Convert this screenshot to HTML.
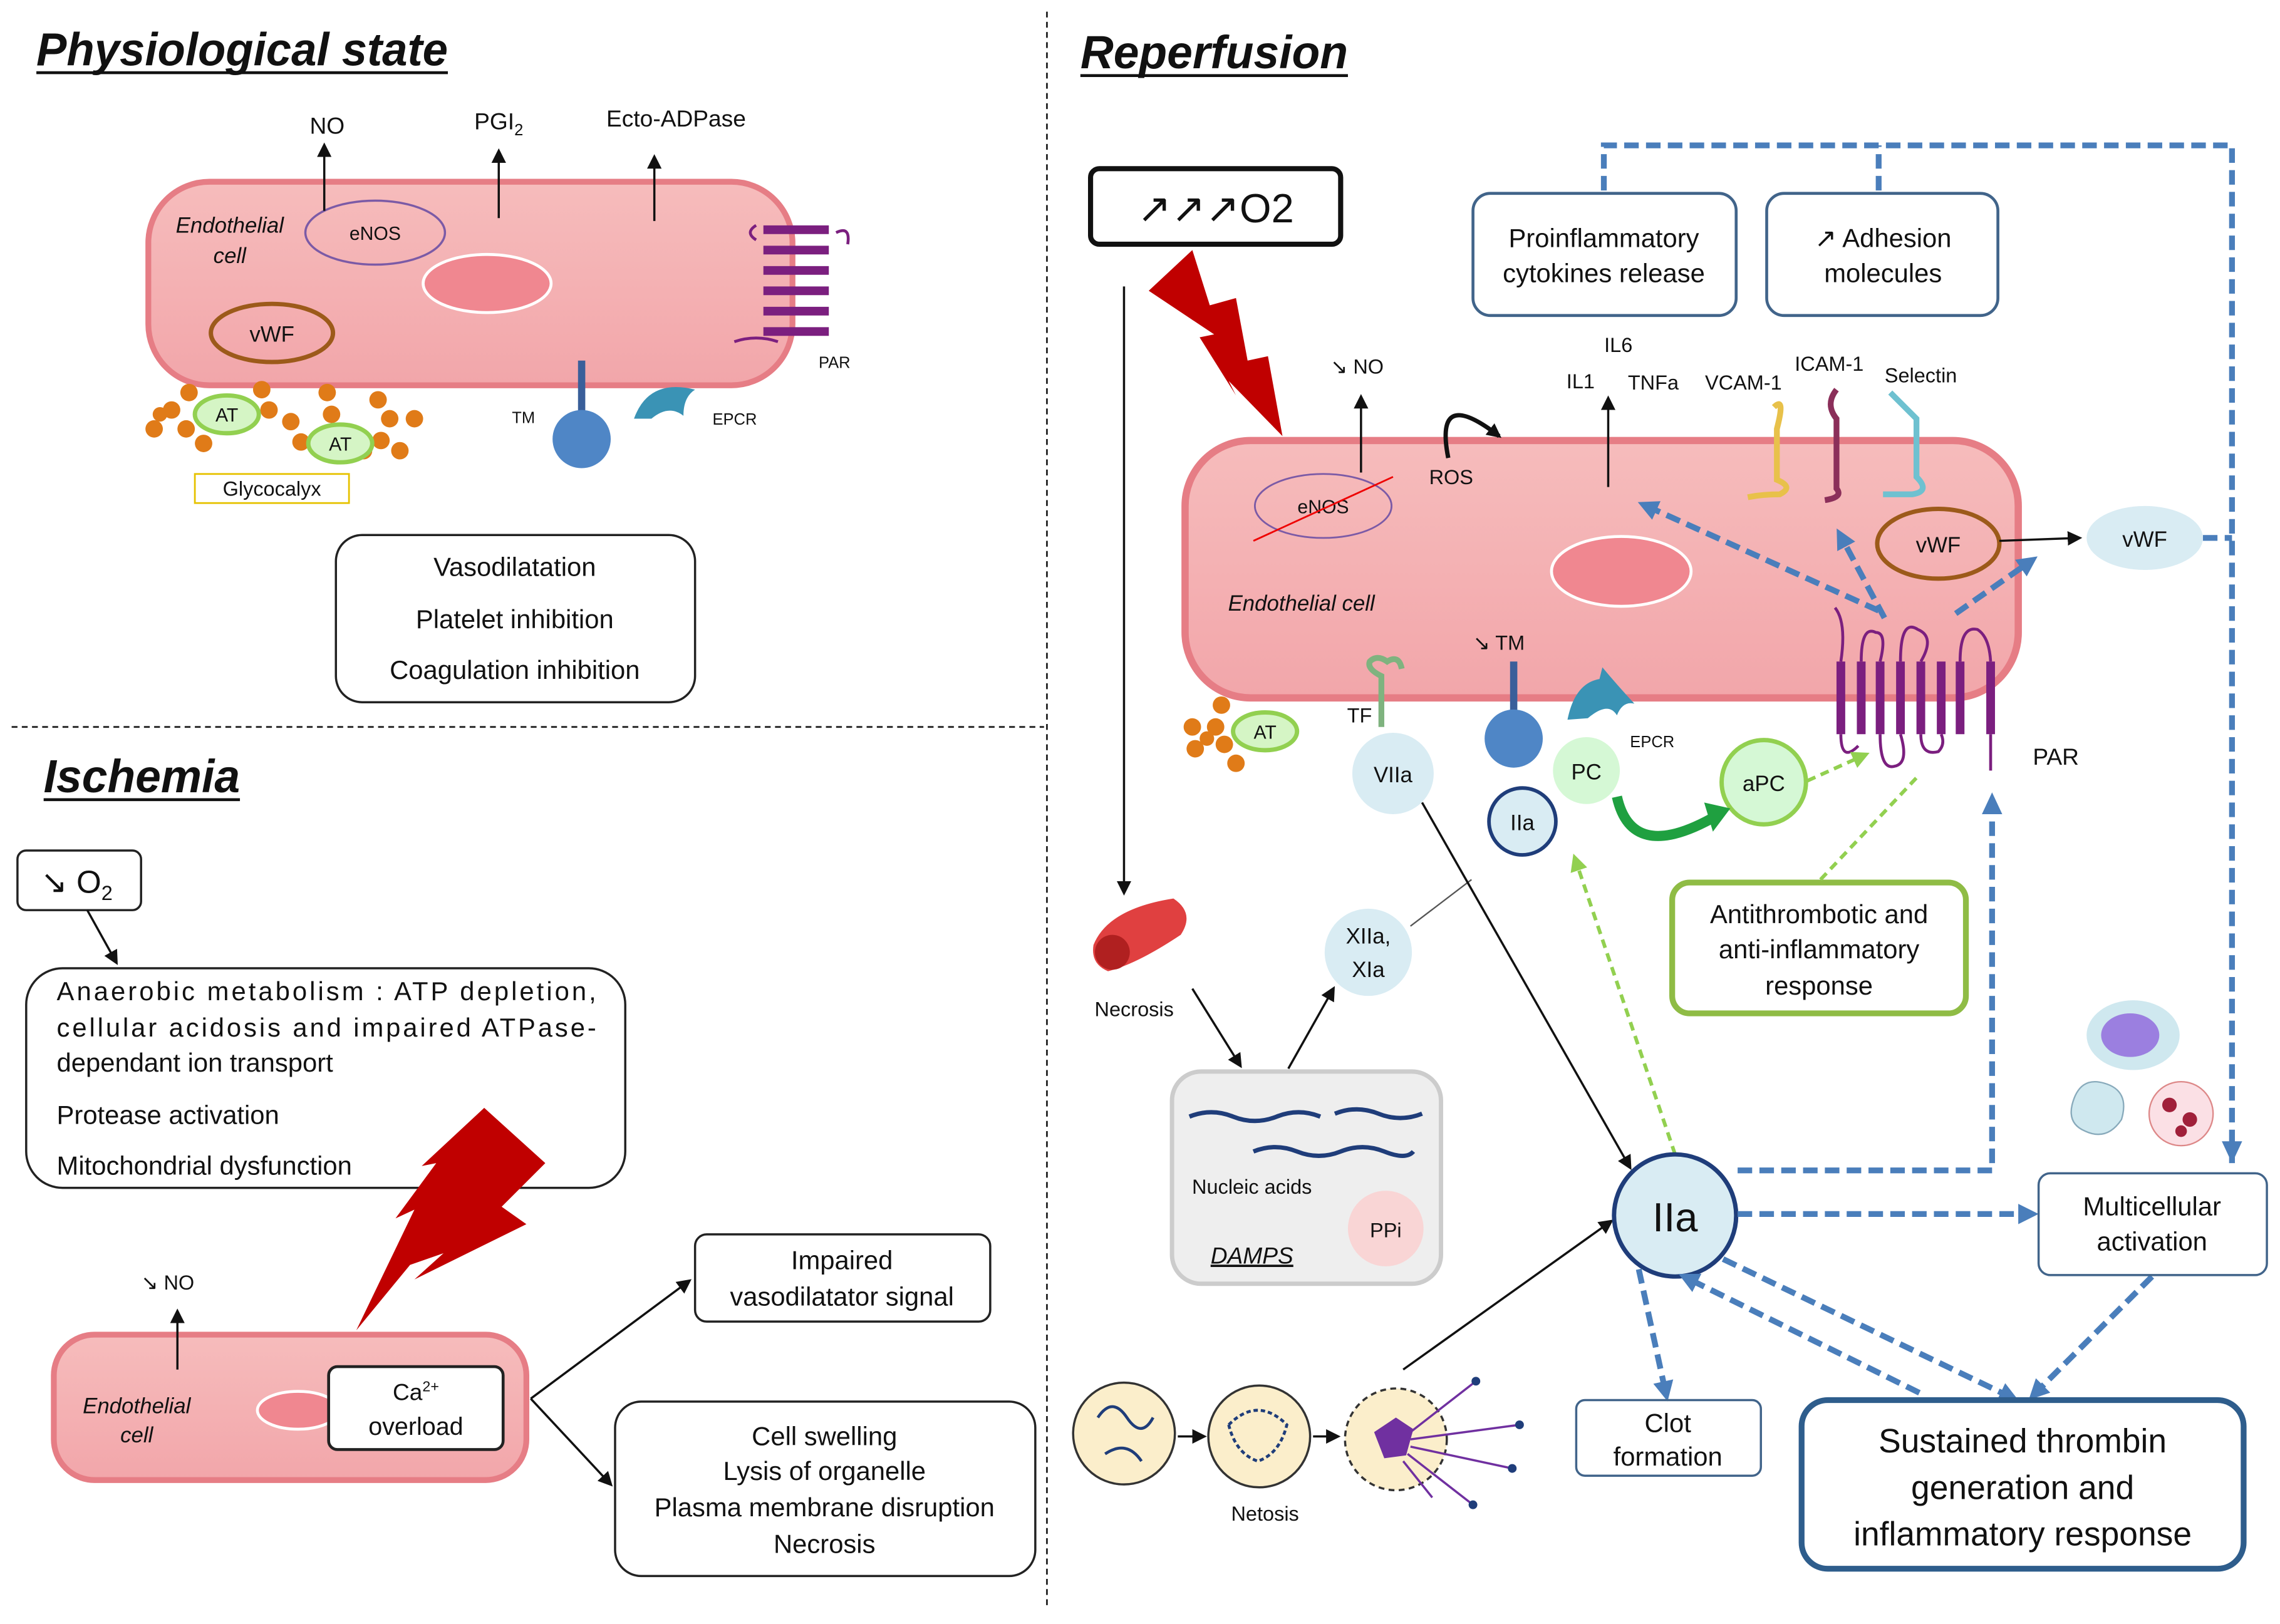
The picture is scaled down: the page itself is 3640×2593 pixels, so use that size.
<!DOCTYPE html>
<html><head><meta charset="utf-8"><style>
html,body{margin:0;padding:0;background:#fff}
svg{display:block}
text{font-family:"Liberation Sans",sans-serif;fill:#111}
</style></head><body>
<svg width="3640" height="2593" viewBox="0 0 1568 1117" xmlns="http://www.w3.org/2000/svg">
<defs>
<marker id="ak" markerWidth="10" markerHeight="10" refX="8" refY="5" orient="auto" markerUnits="userSpaceOnUse"><path d="M0,0 L10,5 L0,10 z" fill="#111"/></marker>
<marker id="ab" markerWidth="14" markerHeight="14" refX="10" refY="7" orient="auto" markerUnits="userSpaceOnUse"><path d="M0,0 L14,7 L0,14 z" fill="#4a7ebb"/></marker>
<marker id="ag" markerWidth="12" markerHeight="12" refX="9" refY="6" orient="auto" markerUnits="userSpaceOnUse"><path d="M0,0 L12,6 L0,12 z" fill="#92d050"/></marker>
<linearGradient id="cg" x1="0" y1="0" x2="0" y2="1"><stop offset="0" stop-color="#f6bcbc"/><stop offset="1" stop-color="#f2a6aa"/></linearGradient>
</defs>

<line x1="720" y1="8" x2="720" y2="1105" stroke="#222" stroke-width="1.2" stroke-dasharray="4,3"/>
<line x1="8" y1="500" x2="718" y2="500" stroke="#222" stroke-width="1.2" stroke-dasharray="4,3"/>

<text x="25" y="45" font-size="32" font-weight="bold" font-style="italic" textLength="283" lengthAdjust="spacingAndGlyphs">Physiological state</text>
<line x1="25" y1="50" x2="308" y2="50" stroke="#111" stroke-width="2"/>
<text x="743" y="47" font-size="32" font-weight="bold" font-style="italic" textLength="184" lengthAdjust="spacingAndGlyphs">Reperfusion</text>
<line x1="743" y1="52" x2="927" y2="52" stroke="#111" stroke-width="2"/>
<text x="30" y="545" font-size="32" font-weight="bold" font-style="italic" textLength="135" lengthAdjust="spacingAndGlyphs">Ischemia</text>
<line x1="30" y1="550" x2="165" y2="550" stroke="#111" stroke-width="2"/>

<!-- ===== Physiological ===== -->
<rect x="102" y="125" width="443" height="140" rx="42" fill="url(#cg)" stroke="#e67d85" stroke-width="4"/>
<ellipse cx="335" cy="195" rx="44" ry="20" fill="#f08790" stroke="#fff" stroke-width="2"/>
<ellipse cx="258" cy="160" rx="48" ry="22" fill="none" stroke="#7b5aa6" stroke-width="1.5"/>
<text x="258" y="165" font-size="13" text-anchor="middle">eNOS</text>
<ellipse cx="187" cy="229" rx="42" ry="20" fill="none" stroke="#9c5a1a" stroke-width="3"/>
<text x="187" y="235" font-size="15" text-anchor="middle">vWF</text>
<text x="158" y="160" font-size="15" font-style="italic" text-anchor="middle">Endothelial</text>
<text x="158" y="181" font-size="15" font-style="italic" text-anchor="middle">cell</text>
<line x1="223" y1="145" x2="223" y2="100" stroke="#111" stroke-width="1.5" marker-end="url(#ak)"/>
<line x1="343" y1="150" x2="343" y2="104" stroke="#111" stroke-width="1.5" marker-end="url(#ak)"/>
<line x1="450" y1="152" x2="450" y2="108" stroke="#111" stroke-width="1.5" marker-end="url(#ak)"/>
<text x="225" y="92" font-size="16" text-anchor="middle">NO</text>
<text x="343" y="89" font-size="16" text-anchor="middle">PGI<tspan font-size="11" dy="4">2</tspan></text>
<text x="465" y="87" font-size="16" text-anchor="middle">Ecto-ADPase</text>
<g stroke="#7b1f7f" stroke-width="6">
<line x1="525" y1="158" x2="570" y2="158"/><line x1="525" y1="172" x2="570" y2="172"/><line x1="525" y1="186" x2="570" y2="186"/><line x1="525" y1="200" x2="570" y2="200"/><line x1="525" y1="214" x2="570" y2="214"/><line x1="525" y1="228" x2="570" y2="228"/></g>
<path d="M520,155 q-8,5 0,10 M575,160 q10,-5 8,8 M505,235 q15,-5 30,0" stroke="#7b1f7f" stroke-width="2" fill="none"/>
<text x="563" y="253" font-size="11">PAR</text>
<g fill="#e07b18">
<circle cx="106" cy="295" r="6"/><circle cx="118" cy="282" r="6"/><circle cx="130" cy="270" r="6"/><circle cx="128" cy="295" r="6"/><circle cx="140" cy="305" r="6"/><circle cx="110" cy="285" r="5"/><circle cx="180" cy="268" r="6"/><circle cx="185" cy="282" r="6"/><circle cx="200" cy="290" r="6"/><circle cx="207" cy="304" r="6"/><circle cx="225" cy="270" r="6"/><circle cx="228" cy="285" r="6"/><circle cx="260" cy="275" r="6"/><circle cx="268" cy="288" r="6"/><circle cx="285" cy="288" r="6"/><circle cx="262" cy="303" r="6"/><circle cx="275" cy="310" r="6"/><circle cx="250" cy="310" r="6"/></g>
<ellipse cx="156" cy="285" rx="22" ry="13" fill="#d5f5c5" stroke="#92d050" stroke-width="3"/><text x="156" y="290" font-size="13" text-anchor="middle">AT</text>
<ellipse cx="234" cy="305" rx="22" ry="13" fill="#d5f5c5" stroke="#92d050" stroke-width="3"/><text x="234" y="310" font-size="13" text-anchor="middle">AT</text>
<rect x="134" y="326" width="106" height="20" fill="none" stroke="#e6c200" stroke-width="1.2"/>
<text x="187" y="341" font-size="14" text-anchor="middle">Glycocalyx</text>
<line x1="400" y1="248" x2="400" y2="285" stroke="#3a5f9a" stroke-width="5"/>
<circle cx="400" cy="302" r="20" fill="#4f86c6"/>
<text x="360" y="291" font-size="11" text-anchor="middle">TM</text>
<path d="M436,288 q10,-28 42,-20 q-8,5 -8,18 q-10,-8 -22,2 z" fill="#3a93b5"/>
<text x="490" y="292" font-size="11">EPCR</text>
<rect x="231" y="368" width="247" height="115" rx="18" fill="none" stroke="#222" stroke-width="1.5"/>
<text x="354" y="396" font-size="18" text-anchor="middle">Vasodilatation</text>
<text x="354" y="432" font-size="18" text-anchor="middle">Platelet inhibition</text>
<text x="354" y="467" font-size="18" text-anchor="middle">Coagulation inhibition</text>

<!-- ===== Ischemia ===== -->
<rect x="12" y="585" width="85" height="41" rx="6" fill="none" stroke="#222" stroke-width="1.5"/>
<text x="28" y="614" font-size="22">↘ O<tspan font-size="14" dy="5">2</tspan></text>
<line x1="60" y1="626" x2="80" y2="662" stroke="#111" stroke-width="1.5" marker-end="url(#ak)"/>
<rect x="18" y="666" width="412" height="151" rx="25" fill="none" stroke="#222" stroke-width="1.5"/>
<text x="39" y="688" font-size="18" textLength="371" lengthAdjust="spacing">Anaerobic metabolism : ATP depletion,</text>
<text x="39" y="713" font-size="18" textLength="371" lengthAdjust="spacing">cellular acidosis and impaired ATPase-</text>
<text x="39" y="737" font-size="18">dependant ion transport</text>
<text x="39" y="773" font-size="18">Protease activation</text>
<text x="39" y="808" font-size="18">Mitochondrial dysfunction</text>
<polygon points="333,762 375,800 345,830 362,842 285,880 305,862 282,870 245,915 285,832 272,838 300,800 290,802" fill="#c00000"/>
<rect x="37" y="918" width="325" height="100" rx="28" fill="url(#cg)" stroke="#e67d85" stroke-width="4"/>
<ellipse cx="205" cy="970" rx="28" ry="13" fill="#f08790" stroke="#fff" stroke-width="2"/>
<rect x="226" y="940" width="120" height="57" rx="6" fill="#fff" stroke="#222" stroke-width="2"/>
<text x="286" y="963" font-size="16" text-anchor="middle">Ca<tspan font-size="10" dy="-6">2+</tspan></text>
<text x="286" y="987" font-size="17" text-anchor="middle">overload</text>
<text x="94" y="972" font-size="15" font-style="italic" text-anchor="middle">Endothelial</text>
<text x="94" y="992" font-size="15" font-style="italic" text-anchor="middle">cell</text>
<line x1="122" y1="942" x2="122" y2="902" stroke="#111" stroke-width="1.5" marker-end="url(#ak)"/>
<text x="97" y="887" font-size="14">↘ NO</text>
<line x1="365" y1="962" x2="474" y2="881" stroke="#111" stroke-width="1.5" marker-end="url(#ak)"/>
<line x1="365" y1="962" x2="420" y2="1021" stroke="#111" stroke-width="1.5" marker-end="url(#ak)"/>
<rect x="478" y="849" width="203" height="60" rx="8" fill="none" stroke="#222" stroke-width="1.5"/>
<text x="579" y="873" font-size="18" text-anchor="middle">Impaired</text>
<text x="579" y="898" font-size="18" text-anchor="middle">vasodilatator signal</text>
<rect x="423" y="964" width="289" height="120" rx="18" fill="none" stroke="#222" stroke-width="1.5"/>
<text x="567" y="994" font-size="18" text-anchor="middle">Cell swelling</text>
<text x="567" y="1018" font-size="18" text-anchor="middle">Lysis of organelle</text>
<text x="567" y="1043" font-size="18" text-anchor="middle">Plasma membrane disruption</text>
<text x="567" y="1068" font-size="18" text-anchor="middle">Necrosis</text>

<!-- ===== Reperfusion ===== -->
<rect x="750" y="116" width="172" height="52" rx="6" fill="none" stroke="#111" stroke-width="3.5"/>
<text x="836" y="153" font-size="28" text-anchor="middle">↗↗↗O2</text>
<polygon points="790,200 820,172 832,210 850,205 858,248 872,245 882,300 845,262 850,272 825,232 835,230" fill="#c00000"/>
<line x1="773" y1="197" x2="773" y2="614" stroke="#111" stroke-width="1.5" marker-end="url(#ak)"/>

<rect x="1013" y="133" width="181" height="84" rx="12" fill="none" stroke="#41648a" stroke-width="2"/>
<text x="1103" y="170" font-size="18" text-anchor="middle">Proinflammatory</text>
<text x="1103" y="194" font-size="18" text-anchor="middle">cytokines release</text>
<rect x="1215" y="133" width="159" height="84" rx="12" fill="none" stroke="#41648a" stroke-width="2"/>
<text x="1295" y="170" font-size="18" text-anchor="middle">↗ Adhesion</text>
<text x="1295" y="194" font-size="18" text-anchor="middle">molecules</text>
<g stroke="#4a7ebb" stroke-width="4" stroke-dasharray="10,5" fill="none">
<polyline points="1103,131 1103,100 1535,100 1535,800"/>
<line x1="1292" y1="131" x2="1292" y2="100"/>
<line x1="1515" y1="370" x2="1535" y2="370"/>
</g>
<polygon points="1528,785 1542,785 1535,800" fill="#4a7ebb"/>

<rect x="815" y="303" width="573" height="177" rx="45" fill="url(#cg)" stroke="#e67d85" stroke-width="5"/>
<ellipse cx="1115" cy="393" rx="48" ry="24" fill="#f08790" stroke="#fff" stroke-width="2"/>
<ellipse cx="910" cy="348" rx="47" ry="22" fill="none" stroke="#7b5aa6" stroke-width="1.2"/>
<text x="910" y="353" font-size="13" text-anchor="middle">eNOS</text>
<line x1="862" y1="372" x2="958" y2="328" stroke="#e00" stroke-width="1.2"/>
<text x="895" y="420" font-size="15" font-style="italic" text-anchor="middle">Endothelial cell</text>
<line x1="936" y1="325" x2="936" y2="273" stroke="#111" stroke-width="1.5" marker-end="url(#ak)"/>
<text x="915" y="257" font-size="14">↘ NO</text>
<path d="M996,315 q-10,-50 35,-15" stroke="#111" stroke-width="3" fill="none" marker-end="url(#ak)"/>
<text x="998" y="333" font-size="14" text-anchor="middle">ROS</text>
<line x1="1106" y1="335" x2="1106" y2="274" stroke="#111" stroke-width="1.5" marker-end="url(#ak)"/>
<text x="1113" y="242" font-size="14" text-anchor="middle">IL6</text>
<text x="1087" y="267" font-size="14" text-anchor="middle">IL1</text>
<text x="1137" y="268" font-size="14" text-anchor="middle">TNFa</text>
<text x="1199" y="268" font-size="14" text-anchor="middle">VCAM-1</text>
<text x="1258" y="255" font-size="14" text-anchor="middle">ICAM-1</text>
<text x="1321" y="263" font-size="14" text-anchor="middle">Selectin</text>
<path d="M1220,280 q8,-8 2,15 l0,35 q12,5 2,10 q-12,0 -22,2" stroke="#e8c14a" stroke-width="4" fill="none"/>
<path d="M1263,268 q-8,10 0,20 l0,48 q5,6 -8,8" stroke="#8b2f5a" stroke-width="4" fill="none"/>
<path d="M1300,270 q10,10 18,18 l0,40 q10,10 -3,12 q-15,0 -20,0" stroke="#6ec1d0" stroke-width="4" fill="none"/>
<ellipse cx="1333" cy="374" rx="42" ry="24" fill="none" stroke="#9c5a1a" stroke-width="3"/>
<text x="1333" y="380" font-size="15" text-anchor="middle">vWF</text>
<line x1="1375" y1="372" x2="1430" y2="370" stroke="#111" stroke-width="1.5" marker-end="url(#ak)"/>
<ellipse cx="1475" cy="370" rx="40" ry="22" fill="#d9ecf3"/>
<text x="1475" y="376" font-size="15" text-anchor="middle">vWF</text>

<g stroke="#7b1f7f" stroke-width="6">
<line x1="1266" y1="455" x2="1266" y2="505"/><line x1="1280" y1="455" x2="1280" y2="505"/><line x1="1293" y1="455" x2="1293" y2="505"/><line x1="1307" y1="455" x2="1307" y2="505"/><line x1="1321" y1="455" x2="1321" y2="505"/><line x1="1335" y1="455" x2="1335" y2="505"/><line x1="1348" y1="455" x2="1348" y2="505"/><line x1="1369" y1="455" x2="1369" y2="505"/></g>
<path d="M1262,418 q8,10 4,37 M1280,455 q0,-25 10,-20 q8,0 3,20 M1307,455 q0,-30 12,-22 q12,5 2,22 M1348,455 q0,-25 12,-22 q8,5 9,22 M1266,505 q0,20 12,8 M1293,505 q0,25 10,22 q10,-2 4,-22 M1321,505 q0,15 12,12 q5,-5 2,-12 M1369,505 l0,25" stroke="#7b1f7f" stroke-width="2" fill="none"/>
<text x="1398" y="526" font-size="16">PAR</text>
<g stroke="#4a7ebb" stroke-width="4" stroke-dasharray="10,5" fill="none">
<line x1="1292" y1="420" x2="1130" y2="347" marker-end="url(#ab)"/>
<line x1="1296" y1="425" x2="1265" y2="367" marker-end="url(#ab)"/>
<line x1="1345" y1="422" x2="1398" y2="385" marker-end="url(#ab)"/>
</g>

<text x="1013" y="447" font-size="14">↘ TM</text>
<line x1="1041" y1="455" x2="1041" y2="492" stroke="#3a5f9a" stroke-width="5"/>
<ellipse cx="1041" cy="508" rx="20" ry="20" fill="#4f86c6"/>
<path d="M950,500 l0,-35 q-10,-5 -8,-10 q5,-5 12,0 q8,-5 10,5" stroke="#7fb37f" stroke-width="4" fill="none"/>
<text x="935" y="497" font-size="14" text-anchor="middle">TF</text>
<path d="M1078,495 q5,-25 22,-28 l2,-8 q10,12 22,25 q-8,-2 -12,8 q-6,-10 -20,2 z" fill="#3a93b5"/>
<text x="1121" y="514" font-size="11">EPCR</text>
<g fill="#e07b18"><circle cx="820" cy="500" r="6"/><circle cx="822" cy="515" r="6"/><circle cx="836" cy="500" r="6"/><circle cx="840" cy="485" r="6"/><circle cx="842" cy="512" r="6"/><circle cx="850" cy="525" r="6"/><circle cx="830" cy="508" r="5"/></g>
<ellipse cx="870" cy="503" rx="22" ry="13" fill="#d5f5c5" stroke="#92d050" stroke-width="3"/><text x="870" y="508" font-size="13" text-anchor="middle">AT</text>

<circle cx="958" cy="532" r="28" fill="#d9ecf3"/><text x="958" y="538" font-size="15" text-anchor="middle">VIIa</text>
<circle cx="1047" cy="565" r="23" fill="#d9ecf3" stroke="#1f3d7a" stroke-width="2.5"/><text x="1047" y="571" font-size="15" text-anchor="middle">IIa</text>
<circle cx="1091" cy="530" r="23" fill="#d5f8d5"/><text x="1091" y="536" font-size="15" text-anchor="middle">PC</text>
<circle cx="1213" cy="538" r="29" fill="#d5f8d5" stroke="#92d050" stroke-width="3"/><text x="1213" y="544" font-size="15" text-anchor="middle">aPC</text>
<path d="M1112,548 q10,45 65,15" stroke="#1fa040" stroke-width="7" fill="none"/>
<polygon points="1172,552 1190,556 1178,572" fill="#1fa040"/>
<circle cx="941" cy="655" r="30" fill="#d9ecf3"/><text x="941" y="649" font-size="15" text-anchor="middle">XIIa,</text><text x="941" y="672" font-size="15" text-anchor="middle">XIa</text>

<rect x="1150" y="607" width="202" height="90" rx="12" fill="none" stroke="#8fbc45" stroke-width="4"/>
<text x="1251" y="635" font-size="18" text-anchor="middle">Antithrombotic and</text>
<text x="1251" y="659" font-size="18" text-anchor="middle">anti-inflammatory</text>
<text x="1251" y="684" font-size="18" text-anchor="middle">response</text>
<g stroke="#92d050" stroke-width="2.5" stroke-dasharray="6,4" fill="none">
<line x1="1252" y1="605" x2="1318" y2="535"/>
<line x1="1243" y1="537" x2="1283" y2="519" marker-end="url(#ag)"/>
<line x1="1152" y1="794" x2="1083" y2="590" marker-end="url(#ag)"/>
</g>

<path d="M752,650 q10,-25 55,-32 q15,10 5,25 q-30,20 -50,25 q-12,-5 -10,-18 z" fill="#e04040"/>
<circle cx="765" cy="655" r="12" fill="#b02020"/>
<text x="780" y="699" font-size="14" text-anchor="middle">Necrosis</text>
<line x1="820" y1="680" x2="853" y2="733" stroke="#111" stroke-width="1.5" marker-end="url(#ak)"/>
<line x1="886" y1="735" x2="917" y2="680" stroke="#111" stroke-width="1.5" marker-end="url(#ak)"/>
<line x1="970" y1="637" x2="1012" y2="605" stroke="#555" stroke-width="1"/>
<rect x="806" y="737" width="185" height="146" rx="20" fill="#eeeeee" stroke="#cccccc" stroke-width="3"/>
<path d="M818,768 q15,-6 30,0 t30,0 t30,0 M918,766 q15,-6 30,0 t30,0 M862,792 q15,-6 30,0 t30,0 t30,0 t20,0" stroke="#1f3d7a" stroke-width="3" fill="none"/>
<text x="861" y="821" font-size="14" text-anchor="middle">Nucleic acids</text>
<text x="861" y="869" font-size="16" font-style="italic" text-anchor="middle" text-decoration="underline">DAMPS</text>
<circle cx="953" cy="845" r="26" fill="#f9d5d5"/><text x="953" y="851" font-size="14" text-anchor="middle">PPi</text>
<line x1="978" y1="552" x2="1121" y2="803" stroke="#111" stroke-width="1.5" marker-end="url(#ak)"/>

<circle cx="773" cy="986" r="35" fill="#fbeecb" stroke="#333" stroke-width="1.5"/>
<path d="M755,975 q10,-15 20,0 q10,15 18,0 M760,1000 q15,-10 25,5" stroke="#1f3d7a" stroke-width="2" fill="none"/>
<line x1="810" y1="988" x2="828" y2="988" stroke="#111" stroke-width="1.5" marker-end="url(#ak)"/>
<circle cx="866" cy="988" r="35" fill="#fbeecb" stroke="#333" stroke-width="1.5"/>
<path d="M845,980 q20,-20 40,0 q-5,20 -20,25 q-15,-5 -20,-25" stroke="#1f3d7a" stroke-width="2" fill="none" stroke-dasharray="3,2"/>
<line x1="903" y1="988" x2="920" y2="988" stroke="#111" stroke-width="1.5" marker-end="url(#ak)"/>
<circle cx="960" cy="990" r="35" fill="#fbeecb" stroke="#333" stroke-width="1.5" stroke-dasharray="4,3"/>
<path d="M945,985 l15,-10 l12,8 l-5,18 l-15,2 z" fill="#7030a0"/>
<path d="M970,985 l45,-35 M970,990 l75,-10 M970,995 l70,15 M968,1000 l45,35 M965,1005 l20,25" stroke="#7030a0" stroke-width="1.5" fill="none"/>
<g fill="#1f3d7a"><circle cx="1015" cy="950" r="3"/><circle cx="1045" cy="980" r="3"/><circle cx="1040" cy="1010" r="3"/><circle cx="1013" cy="1035" r="3"/></g>
<text x="870" y="1046" font-size="14" text-anchor="middle">Netosis</text>
<line x1="965" y1="942" x2="1108" y2="840" stroke="#111" stroke-width="1.5" marker-end="url(#ak)"/>

<circle cx="1152" cy="836" r="42" fill="#d9ecf3" stroke="#1f3d7a" stroke-width="3"/>
<text x="1152" y="847" font-size="28" text-anchor="middle">IIa</text>
<g stroke="#4a7ebb" stroke-width="4" stroke-dasharray="10,5" fill="none">
<polyline points="1195,805 1370,805 1370,555"/>
<line x1="1195" y1="835" x2="1398" y2="835" marker-end="url(#ab)"/>
<line x1="1127" y1="873" x2="1146" y2="960" marker-end="url(#ab)"/>
<line x1="1185" y1="866" x2="1385" y2="962" marker-end="url(#ab)"/>
<line x1="1320" y1="958" x2="1158" y2="878" marker-end="url(#ab)"/>
<line x1="1480" y1="878" x2="1398" y2="960" marker-end="url(#ab)"/>
</g>
<polygon points="1363,560 1377,560 1370,545" fill="#4a7ebb"/>

<ellipse cx="1467" cy="712" rx="32" ry="24" fill="#cfe8ef"/>
<ellipse cx="1465" cy="712" rx="20" ry="15" fill="#9b7fe0"/>
<path d="M1425,760 q5,-20 22,-15 q18,5 12,25 q-10,15 -25,8 q-12,-5 -9,-18 z" fill="#cfe8ef" stroke="#8ab" stroke-width="1"/>
<circle cx="1500" cy="766" r="22" fill="#fbe0e5" stroke="#d88" stroke-width="1"/>
<g fill="#a0203a"><circle cx="1492" cy="760" r="5"/><circle cx="1506" cy="770" r="5"/><circle cx="1500" cy="778" r="4"/></g>

<rect x="1402" y="807" width="157" height="70" rx="8" fill="none" stroke="#41648a" stroke-width="1.5"/>
<text x="1480" y="836" font-size="18" text-anchor="middle">Multicellular</text>
<text x="1480" y="860" font-size="18" text-anchor="middle">activation</text>
<rect x="1084" y="963" width="127" height="52" rx="6" fill="none" stroke="#41648a" stroke-width="1.5"/>
<text x="1147" y="985" font-size="18" text-anchor="middle">Clot</text>
<text x="1147" y="1008" font-size="18" text-anchor="middle">formation</text>
<rect x="1239" y="963" width="304" height="116" rx="18" fill="none" stroke="#2e5d8c" stroke-width="4"/>
<text x="1391" y="999" font-size="23" text-anchor="middle">Sustained thrombin</text>
<text x="1391" y="1031" font-size="23" text-anchor="middle">generation and</text>
<text x="1391" y="1063" font-size="23" text-anchor="middle">inflammatory response</text>
</svg>
</body></html>
